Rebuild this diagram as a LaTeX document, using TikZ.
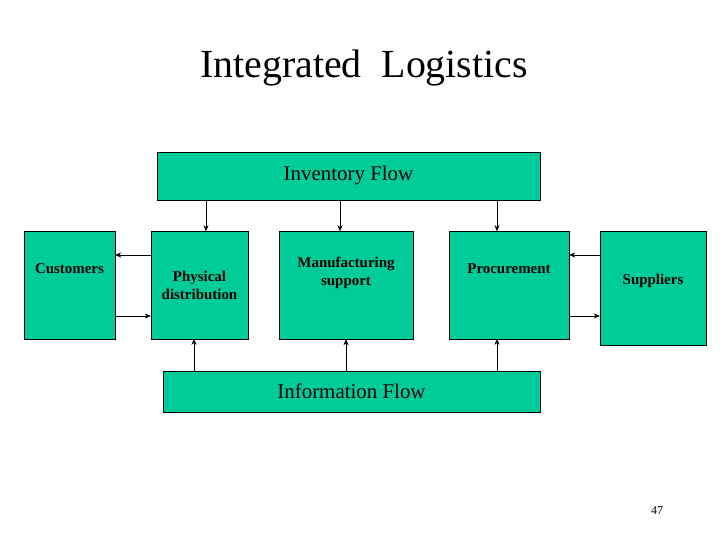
\documentclass[tikz,border=0pt]{standalone}
\usepackage{fontspec}
\setmainfont{Liberation Serif}
\usetikzlibrary{arrows.meta}
\begin{document}
\begin{tikzpicture}[x=1bp,y=-1bp,
  box/.style={draw=black,fill={rgb,255:red,0;green,204;blue,153},inner sep=0pt,align=center,font=\bfseries\fontsize{15}{18}\selectfont},
  flow/.style={draw=black,fill={rgb,255:red,0;green,204;blue,153},inner sep=0pt,font=\fontsize{21}{24}\selectfont},
  arr/.style={-{Stealth[length=6bp,width=5bp]},thin}]
\useasboundingbox[fill=white] (0,0) rectangle (728,546);
\node[font=\fontsize{40}{44}\selectfont] (title) at (364,68) {Integrated\ \ Logistics};
\node[flow,minimum width=383bp,minimum height=48bp] (inv) at (348.5,176) {Inventory Flow};
\node[flow,minimum width=377bp,minimum height=41bp] (info) at (351.5,391.5) {Information Flow};
\node[box,minimum width=91bp,minimum height=108bp] (cust) at (69.5,285) {\raisebox{0bp}{Customers}\\[14bp]};
\node[box,minimum width=97bp,minimum height=108bp] (phys) at (199.5,285) {Physical\\distribution};
\node[box,minimum width=134bp,minimum height=108bp] (manu) at (346,285) {Manufacturing\\support\\[10bp]};
\node[box,minimum width=120bp,minimum height=108bp] (proc) at (509,285) {Procurement\\[14bp]};
\node[box,minimum width=106bp,minimum height=114bp] (supp) at (653,288) {Suppliers\\[0bp]};
\node[font=\fontsize{12}{14}\selectfont] (pg) at (657,511) {47};
\draw[arr] (inv.south -| phys.north) ++(6.5,0) -- ++(0,31);
\draw[arr] (inv.south -| manu.north) ++(-6,0) -- ++(0,31);
\draw[arr] (inv.south -| proc.north) ++(-12,0) -- ++(0,31);
\draw[arr] (info.north -| phys.south) ++(-5.5,0) -- ++(0,-32);
\draw[arr] (info.north -| manu.south) -- (manu.south);
\draw[arr] (info.north -| proc.south) ++(-12,0) -- ++(0,-32);
\coordinate (a) at (phys.west |- 0,255);
\coordinate (b) at (cust.east |- 0,316);
\draw[arr] (a) -- (cust.east |- a);
\draw[arr] (b) -- (phys.west |- b);
\coordinate (c) at (supp.west |- 0,255);
\coordinate (d) at (proc.east |- 0,316);
\draw[arr] (c) -- (proc.east |- c);
\draw[arr] (d) -- (supp.west |- d);
\end{tikzpicture}
\end{document}
